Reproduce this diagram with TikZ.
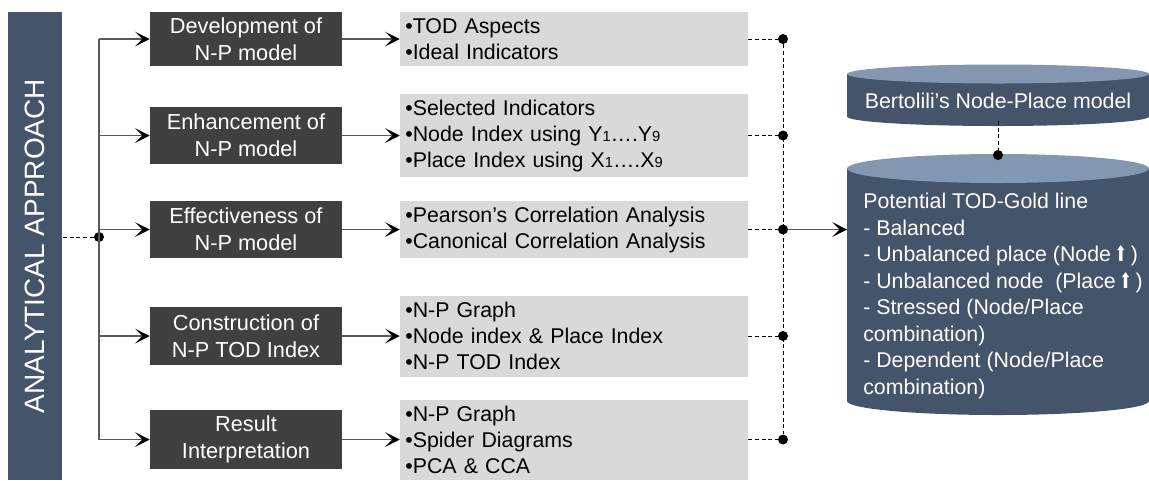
\documentclass[tikz,border=0pt]{standalone}
\usepackage{fontspec}
\setmainfont{Liberation Sans}
\newfontfamily\symfont{DejaVu Sans}
\usepackage{xcolor}
\usetikzlibrary{arrows.meta,positioning}
\definecolor{slateblue}{HTML}{44546A}
\definecolor{slatelight}{HTML}{8497B0}
\definecolor{darkstep}{HTML}{404040}
\definecolor{lightstep}{HTML}{D9D9D9}
\newcommand{\uparr}{{\symfont\scalebox{0.7}[1]{⬆}}}
\newcommand{\idx}[1]{{\fontsize{11}{11}\selectfont #1}}

\begin{document}
\begin{tikzpicture}[x=0.75pt, y=-0.75pt, font=\fontsize{16}{19.5}\selectfont]
        \tikzstyle{stepbox}=[fill=darkstep, text=white, align=center, minimum width=144pt, inner sep=2pt, font=\fontsize{16.3}{20}\selectfont]
        \tikzstyle{itembox}=[fill=lightstep, text width=253pt, align=left, inner sep=4pt]
        \tikzstyle{point}=[circle, fill, inner sep=0pt, minimum width=7.5pt, minimum height=7.5pt]
        \tikzstyle{link}=[draw=black!65, line width=0.8pt, -{Stealth[black, length=11pt, width=11pt, inset=5.5pt]}]
        \tikzstyle{dashlink}=[densely dashed, line width=0.6pt]

        \useasboundingbox (0,0) rectangle (1149,480);

        % Title bar
        \node[rotate=90, fill=slateblue, text=white, minimum width=351pt, minimum height=40.5pt,
              font=\fontsize{21}{25}\selectfont] (title) at (35,246) {ANALYTICAL APPROACH};

        % Steps
        \node[stepbox, minimum height=40.5pt] (s1) at (246,39) {Development of\\N-P model};
        \node[stepbox, minimum height=42.75pt] (s2) at (246,135.5) {Enhancement of\\N-P model};
        \node[stepbox, minimum height=42.75pt] (s3) at (246,229.5) {Effectiveness of\\N-P model};
        \node[stepbox, minimum height=43.5pt] (s4) at (246,336) {Construction of\\N-P TOD Index};
        \node[stepbox, minimum height=44.25pt] (s5) at (246,439.5) {Result\\Interpretation};

        % Details of each step
        \node[itembox, minimum height=40.5pt] (d1) at (574,39) {•TOD Aspects\\•Ideal Indicators};
        \node[itembox, minimum height=60.75pt] (d2) at (574,135.5)
             {•Selected Indicators\\•Node Index using Y\idx{1}….Y\idx{9}\\•Place Index using X\idx{1}….X\idx{9}};
        \node[itembox, minimum height=42.75pt] (d3) at (574,229.5)
             {•Pearson’s Correlation Analysis\\•Canonical Correlation Analysis};
        \node[itembox, minimum height=60.75pt] (d4) at (574,336)
             {•N-P Graph\\•Node index \& Place Index\\•N-P TOD Index};
        \node[itembox, minimum height=60pt] (d5) at (574,439.5)
             {•N-P Graph\\•Spider Diagrams\\•PCA \& CCA};

        % Branching from the title
        \node[point] (hub) at (99,237) {};
        \draw[dashlink] (hub) -- (hub -| title.south);
        \draw[draw=black!65, line width=0.8pt] (hub |- s1.west) -- (hub |- s5.west);
        \foreach \i in {1,...,5} {
            \draw[link] (hub |- s\i.west) -- (s\i.west);
            \draw[link] (s\i.east) -- (d\i.west);
        }

        % Joining the details
        \coordinate (jline) at (783,0);
        \foreach \i in {1,...,5} {
            \node[point] (j\i) at (d\i.east -| jline) {};
            \draw[dashlink] (d\i.east) -- (j\i);
        }
        \draw[dashlink] (j1) -- (j5);

        % Cylinder: Node-Place model
        \fill[slateblue] (998,116.5) ellipse[x radius=151, y radius=9.5];
        \fill[slateblue] (847,74) rectangle (1149,116.5);
        \fill[slatelight] (998,74) ellipse[x radius=151, y radius=9.5];
        \node[text=white] (model) at (998,101) {Bertolili’s Node-Place model};
        \coordinate (modelbottom) at (998,121);

        % Cylinder: TOD-Gold line
        \fill[slateblue] (998,401) ellipse[x radius=151, y radius=14];
        \fill[slateblue] (847,168.5) rectangle (1149,401);
        \fill[slatelight] (998,168.5) ellipse[x radius=151, y radius=14.5];
        \node[point] (goldtop) at (998,155) {};
        \coordinate (goldleft) at (847,226);
        \node[text=white, align=left, anchor=north west, inner sep=0pt, font=\fontsize{16}{19.9}\selectfont]
             (goldtext) at (863,193)
             {Potential TOD-Gold line\\- Balanced\\- Unbalanced place (Node\,\uparr\,)\\
              - Unbalanced node\ \ (Place\,\uparr\,)\\- Stressed (Node/Place\\combination)\\
              - Dependent (Node/Place\\combination)};

        \draw[dashlink] (modelbottom) -- (goldtop);
        \draw[link] (j3) -- (j3 -| goldleft);
\end{tikzpicture}
\end{document}
